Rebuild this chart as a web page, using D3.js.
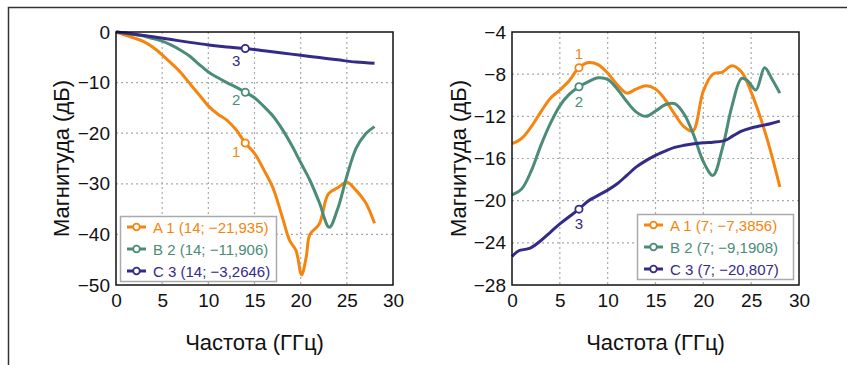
<!DOCTYPE html>
<html>
<head>
<meta charset="utf-8">
<script src="https://cdn.jsdelivr.net/npm/d3@7"></script>
<style>
  body { margin: 0; background: #fff; }
  svg { font-family: "Liberation Sans", Arial, sans-serif; }
</style>
</head>
<body>
<script>
// series names and colours
var seriesNames = ["A", "B", "C"];
var seriesColors = ["#f5850f", "#4a8c78", "#342a88"];

// left chart: 0..30 GHz, 0..-50 dB
var leftA = [[0,0],[1,-0.6],[2,-1.2],[3,-1.9],[4,-3.0],[5,-4.5],[6,-6.2],[7,-8.0],[8,-10.2],[9,-12.4],[10,-14.6],[11,-16.2],[12,-17.4],[13,-19.3],[14,-21.935],[15,-24.0],[16,-27.2],[17,-30.8],[18,-36.5],[18.8,-41.2],[19.5,-43.2],[20.1,-48],[20.6,-44.5],[21,-40],[22,-38],[23,-32],[24,-30.8],[25,-29.7],[26,-31.3],[27,-33.6],[28,-37.8]];
var leftB = [[0,0],[1,-0.2],[2,-0.5],[3,-0.8],[4,-1.3],[5,-1.8],[6,-2.6],[7,-3.6],[8,-4.8],[9,-6.4],[10,-7.9],[11,-9.0],[12,-10.0],[13,-10.9],[14,-11.906],[15,-13.0],[16,-14.7],[17,-16.6],[18,-19.2],[19,-22.3],[20,-25.8],[21,-29.3],[22,-33.6],[23.1,-38.6],[24,-35],[25,-28.5],[26,-23],[27,-20.2],[28,-18.7]];
var leftC = [[0,0],[2,-0.45],[4,-0.95],[6,-1.5],[8,-2.05],[10,-2.55],[12,-2.95],[14,-3.2646],[16,-3.7],[18,-4.15],[20,-4.6],[22,-5.05],[24,-5.5],[26,-5.95],[28,-6.2]];

// right chart: 0..30 GHz, -4..-28 dB
var rightA = [[0,-14.6],[1,-14.1],[2,-13.0],[3,-11.6],[4,-10.3],[5,-9.5],[6,-8.6],[7,-7.3856],[8,-6.9],[9,-7.1],[10,-7.9],[11,-9.0],[12,-9.8],[13,-9.4],[14,-9.1],[15,-9.4],[16,-10.4],[17,-11.8],[18,-13.0],[18.9,-13.4],[20,-9.6],[21,-8.0],[22,-7.8],[23,-7.2],[24,-7.8],[25,-9.7],[26,-12.2],[27,-15.2],[28,-18.7]];
var rightB = [[0,-19.45],[1,-18.9],[2,-17.2],[3,-14.8],[4,-12.7],[5,-11.0],[6,-9.9],[7,-9.1908],[8,-8.7],[9,-8.35],[10,-8.5],[11,-9.4],[12,-10.6],[13,-11.6],[14,-12.0],[15,-11.5],[16,-10.9],[17,-10.8],[18,-11.8],[19,-13.8],[20,-16.3],[21,-17.6],[22,-15.0],[23,-11.0],[24,-8.4],[24.6,-8.6],[25.5,-9.5],[26.4,-7.4],[27.2,-8.5],[28,-9.8]];
var rightC = [[0,-25.3],[0.7,-24.75],[1.5,-24.6],[2,-24.45],[3,-23.8],[4,-23.0],[5,-22.2],[6,-21.5],[7,-20.807],[8,-20.0],[9,-19.5],[10,-19.0],[11,-18.4],[12,-17.6],[13,-16.8],[14,-16.2],[15,-15.7],[16,-15.3],[17,-14.95],[18,-14.75],[19,-14.6],[20,-14.5],[21,-14.45],[22,-14.35],[22.5,-14.2],[23,-13.9],[24,-13.4],[25,-13.1],[26,-12.9],[27,-12.7],[28,-12.45]];

// tick labels
var xTicks = [0, 5, 10, 15, 20, 25, 30];
var leftYTicks = [0, -10, -20, -30, -40, -50];
var rightYTicks = [-4, -8, -12, -16, -20, -24, -28];

var xTitle = "Частота (ГГц)";
var yTitle = "Магнитуда (дБ)";

var W = 847, H = 365;
var svg = d3.select("body").append("svg")
    .attr("width", W)
    .attr("height", H);

// outer frame
svg.append("rect")
    .attr("x", 8.5).attr("y", 7.5)
    .attr("width", 860).attr("height", 400)
    .attr("fill", "none")
    .attr("stroke", "#333")
    .attr("stroke-width", 1.5);

function fmt(v) {
  var s = String(Math.abs(v)).replace(".", ",");
  return (v < 0 ? "\u2212" : "") + s;
}

function drawPanel(opt) {
  var x = d3.scaleLinear().domain([0, 30]).range([opt.left, opt.right]);
  var y = d3.scaleLinear().domain(opt.yDomain).range([opt.top, opt.bottom]);
  var g = svg.append("g");

  // grid
  g.selectAll(".gx").data(xTicks.slice(1, -1)).enter().append("line")
      .attr("x1", function(d) { return x(d); }).attr("x2", function(d) { return x(d); })
      .attr("y1", opt.top).attr("y2", opt.bottom)
      .attr("stroke", "#aaa").attr("stroke-width", 1.2).attr("stroke-dasharray", "2,3");
  g.selectAll(".gy").data(opt.yTicks.slice(1, -1)).enter().append("line")
      .attr("y1", function(d) { return y(d); }).attr("y2", function(d) { return y(d); })
      .attr("x1", opt.left).attr("x2", opt.right)
      .attr("stroke", "#aaa").attr("stroke-width", 1.2).attr("stroke-dasharray", "2,3");

  // axes with labels only
  var ax = g.append("g")
      .attr("transform", "translate(0," + opt.bottom + ")")
      .call(d3.axisBottom(x).tickValues(xTicks).tickSize(0).tickPadding(9).tickFormat(d3.format("d")));
  var ay = g.append("g")
      .attr("transform", "translate(" + opt.left + ",0)")
      .call(d3.axisLeft(y).tickValues(opt.yTicks).tickSize(0).tickPadding(6).tickFormat(fmt));
  [ax, ay].forEach(function(a) {
    a.select(".domain").remove();
    a.selectAll("text").attr("font-size", 19).attr("fill", "#111")
      .attr("font-family", "Liberation Sans, Arial, sans-serif");
  });

  // series lines
  var line = d3.line()
      .x(function(d) { return x(d[0]); })
      .y(function(d) { return y(d[1]); })
      .curve(d3.curveCatmullRom.alpha(0.5));
  opt.series.forEach(function(s, i) {
    g.append("path")
        .attr("d", line(s))
        .attr("fill", "none")
        .attr("stroke", seriesColors[i])
        .attr("stroke-width", 3)
        .attr("stroke-linejoin", "round");
  });

  // frame
  g.append("rect")
      .attr("x", opt.left).attr("y", opt.top)
      .attr("width", opt.right - opt.left).attr("height", opt.bottom - opt.top)
      .attr("fill", "none").attr("stroke", "#111").attr("stroke-width", 1.5);

  // markers + numbers
  opt.series.forEach(function(s, i) {
    var p = s.find(function(d) { return d[0] === opt.markX; });
    g.append("circle")
        .attr("cx", x(p[0])).attr("cy", y(p[1])).attr("r", 3.6)
        .attr("fill", "#fff").attr("stroke", seriesColors[i]).attr("stroke-width", 1.8);
    g.append("text")
        .attr("x", x(p[0]) + opt.labelOff[i][0])
        .attr("y", y(p[1]) + opt.labelOff[i][1])
        .attr("text-anchor", "middle")
        .attr("font-size", 15)
        .attr("fill", seriesColors[i])
        .text(i + 1);
  });

  // legend
  var lg = g.append("g");
  lg.append("rect")
      .attr("x", opt.legend[0] + 0.5).attr("y", opt.legend[1] + 0.5)
      .attr("width", opt.legend[2]).attr("height", opt.legend[3])
      .attr("fill", "#fff").attr("stroke", "#aaa").attr("stroke-width", 1.5);
  opt.series.forEach(function(s, i) {
    var p = s.find(function(d) { return d[0] === opt.markX; });
    var yy = opt.legend[1] + 11 + i * 22;
    var lx = opt.legend[0] + 7;
    lg.append("line")
        .attr("x1", lx).attr("x2", lx + 19).attr("y1", yy).attr("y2", yy)
        .attr("stroke", seriesColors[i]).attr("stroke-width", 3);
    lg.append("circle")
        .attr("cx", lx + 9.5).attr("cy", yy).attr("r", 3.3)
        .attr("fill", "#fff").attr("stroke", seriesColors[i]).attr("stroke-width", 1.8);
    lg.append("text")
        .attr("x", lx + 26).attr("y", yy + 5.5)
        .attr("font-size", 15)
        .attr("fill", seriesColors[i])
        .text(seriesNames[i] + " " + (i + 1) + " (" + opt.markX + "; " + fmt(p[1]) + ")");
  });

  // axis titles
  g.append("text")
      .attr("x", (opt.left + opt.right) / 2).attr("y", 350)
      .attr("text-anchor", "middle").attr("font-size", 22).attr("fill", "#111")
      .text(xTitle);
  g.append("text")
      .attr("transform", "translate(" + opt.yTitleX + "," + (opt.top + opt.bottom) / 2 + ") rotate(-90)")
      .attr("text-anchor", "middle").attr("font-size", 22).attr("fill", "#111")
      .text(yTitle);
}

drawPanel({
  left: 116, right: 393, top: 32, bottom: 285,
  yDomain: [0, -50], yTicks: leftYTicks,
  series: [leftA, leftB, leftC], markX: 14,
  labelOff: [[-9, 14], [-9, 13], [-9, 17]],
  legend: [120, 216, 156, 65],
  yTitleX: 69
});

drawPanel({
  left: 512, right: 799, top: 32, bottom: 285,
  yDomain: [-4, -28], yTicks: rightYTicks,
  series: [rightA, rightB, rightC], markX: 7,
  labelOff: [[0, -9], [0, 20], [0, 20]],
  legend: [637, 214, 156, 65],
  yTitleX: 466
});
</script>
</body>
</html>
